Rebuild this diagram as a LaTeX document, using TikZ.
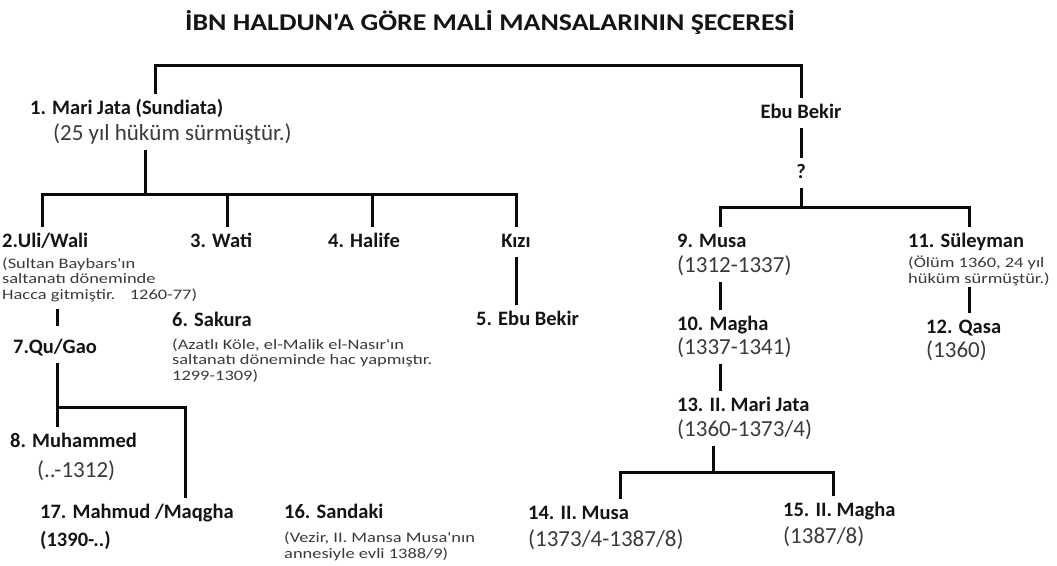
\documentclass[tikz,border=0pt]{standalone}
\usepackage{fontspec}
\setmainfont{Carlito}
\newfontfamily\notefont[FakeStretch=1.27]{Carlito}
\newfontfamily\titlefont[FakeStretch=1.16]{Carlito}
\usetikzlibrary{calc}
\definecolor{mansatext}{HTML}{141414}
\definecolor{mansadate}{HTML}{3A3A3A}
\definecolor{mansaline}{HTML}{0A0A0A}
\tikzset{
  mansa name/.style={
    anchor=base west, inner sep=0pt, outer ysep=6pt,
    text=mansatext, text height=14pt, text depth=4pt,
    font=\fontsize{20.5}{23}\selectfont\bfseries
  },
  mansa date/.style={
    anchor=base west, inner sep=0pt, outer ysep=5pt,
    text=mansadate, text height=14pt, text depth=5pt,
    font=\fontsize{23}{26}\selectfont
  },
  mansa note/.style={
    anchor=base west, inner sep=0pt, outer ysep=8pt,
    text=mansadate, align=left,
    font=\notefont\fontsize{14.5}{15.5}\selectfont
  },
  tree line/.style={
    draw=mansaline, line width=3pt
  }
}

\begin{document}
\begin{tikzpicture}[x=1pt,y=-1pt]
  \useasboundingbox (0,0) rectangle (1057,565);

  \node[mansa name,anchor=base,font=\titlefont\fontsize{24}{28}\selectfont\bfseries] (title) at (490,30) {İBN HALDUN'A GÖRE MALİ MANSALARININ ŞECERESİ};

  % Sundiata and his descendants
  \node[mansa name] (mari) at (30,114) {1. Mari Jata (Sundiata)};
  \node[mansa date] (marinote) at (53,140) {(25 yıl hüküm sürmüştür.)};

  \node[mansa name] (uli) at (2,247) {2.Uli/Wali};
  % multi-line notes are placed by the baseline of their last line
  \node[mansa note] (ulinote) at (2,299) {(Sultan Baybars'ın\\saltanatı döneminde\\Hacca gitmiştir.\quad 1260-77)};
  \node[mansa name] (wati) at (190,247) {3. Wati};
  \node[mansa name] (halife) at (328,247) {4. Halife};
  \node[mansa name,anchor=base] (kizi) at (516,247) {Kızı};
  \node[mansa name] (ebu5) at (476,325) {5. Ebu Bekir};

  \node[mansa name] (sakura) at (172,326) {6. Sakura};
  \node[mansa note] (sakuranote) at (172,380) {(Azatlı Köle, el-Malik el-Nasır'ın\\saltanatı döneminde hac yapmıştır.\\1299-1309)};

  \node[mansa name] (qu) at (13,353) {7.Qu/Gao};
  \node[mansa name] (muh) at (10,447) {8. Muhammed};
  \node[mansa date] (muhdate) at (37,477) {(..-1312)};
  \node[mansa name] (mahmud) at (40,518) {17. Mahmud /Maqgha};
  \node[mansa name] (mahmuddate) at (40,546) {(1390-..)};

  \node[mansa name] (sandaki) at (284,518) {16. Sandaki};
  \node[mansa note] (sandakinote) at (284,558) {(Vezir, II. Mansa Musa'nın\\annesiyle evli 1388/9)};

  % Ebu Bekir's line
  \node[mansa name,anchor=base] (ebu) at (801,118) {Ebu Bekir};
  \node[mansa name,anchor=base] (q) at (801,178) {?};

  \node[mansa name] (musa) at (677,247) {9. Musa};
  \node[mansa date] (musadate) at (677,272) {(1312-1337)};
  \node[mansa name] (magha) at (677,330) {10. Magha};
  \node[mansa date] (maghadate) at (677,354) {(1337-1341)};
  \node[mansa name] (mari2) at (677,411) {13. II. Mari Jata};
  \node[mansa date] (mari2date) at (677,436) {(1360-1373/4)};
  \node[mansa name] (musa2) at (528,519) {14. II. Musa};
  \node[mansa date] (musa2date) at (528,546) {(1373/4-1387/8)};
  \node[mansa name] (magha2) at (783,516) {15. II. Magha};
  \node[mansa date] (magha2date) at (783,543) {(1387/8)};

  \node[mansa name] (suley) at (908,247) {11. Süleyman};
  \node[mansa note,outer ysep=2pt] (suleynote) at (908,283) {(Ölüm 1360, 24 yıl\\hüküm sürmüştür.)};
  \node[mansa name] (qasa) at (926,333) {12. Qasa};
  \node[mansa date] (qasadate) at (926,357) {(1360)};

  \coordinate (rootleft) at (155,65);
  \coordinate (rootright) at (801,65);
  \coordinate (marijoin) at (145,194);
  \coordinate (uliup) at (42,194);
  \coordinate (watiup) at (227,194);
  \coordinate (halifeup) at (372,194);
  \coordinate (kiziup) at (516,194);
  \coordinate (qujoin) at (57,407);
  \coordinate (mahmudjoin) at (185,407);
  \coordinate (ebujoin) at (801,207);
  \coordinate (musaup) at (720,207);
  \coordinate (suleyup) at (969,207);
  \coordinate (marijoin2) at (713,472);
  \coordinate (musa2up) at (620,472);
  \coordinate (magha2up) at (833,472);

  \draw[tree line] (rootleft |- mari.north) -- (rootleft) -- (rootright) -- (ebu.north);

  \draw[tree line] (marijoin |- marinote.south) -- (marijoin);
  \draw[tree line] (uliup |- uli.north) -- (uliup) -- (kiziup) -- (kizi.north);
  \draw[tree line] (watiup) -- (watiup |- wati.north);
  \draw[tree line] (halifeup) -- (halifeup |- halife.north);
  \draw[tree line] (kizi.south) -- (kizi.south |- ebu5.north);

  \draw[tree line,shorten >=7pt] (qujoin |- ulinote.south) -- (qujoin |- qu.north);
  \draw[tree line] (qujoin |- qu.south) -- (qujoin |- muh.north);
  \draw[tree line] (qujoin) -- (mahmudjoin) -- (mahmudjoin |- mahmud.north);

  \draw[tree line] (ebu.south) -- (q.north);
  \draw[tree line] (q.south) -- (ebujoin);
  \draw[tree line] (musaup |- musa.north) -- (musaup) -- (suleyup) -- (suleyup |- suley.north);
  \draw[tree line] (musaup |- musadate.south) -- (musaup |- magha.north);
  \draw[tree line] (musaup |- maghadate.south) -- (musaup |- mari2.north);
  \draw[tree line] (marijoin2 |- mari2date.south) -- (marijoin2);
  \draw[tree line] (musa2up |- musa2.north) -- (musa2up) -- (magha2up) -- (magha2up |- magha2.north);
  \draw[tree line] (suleyup |- suleynote.south) -- (suleyup |- qasa.north);
\end{tikzpicture}
\end{document}
